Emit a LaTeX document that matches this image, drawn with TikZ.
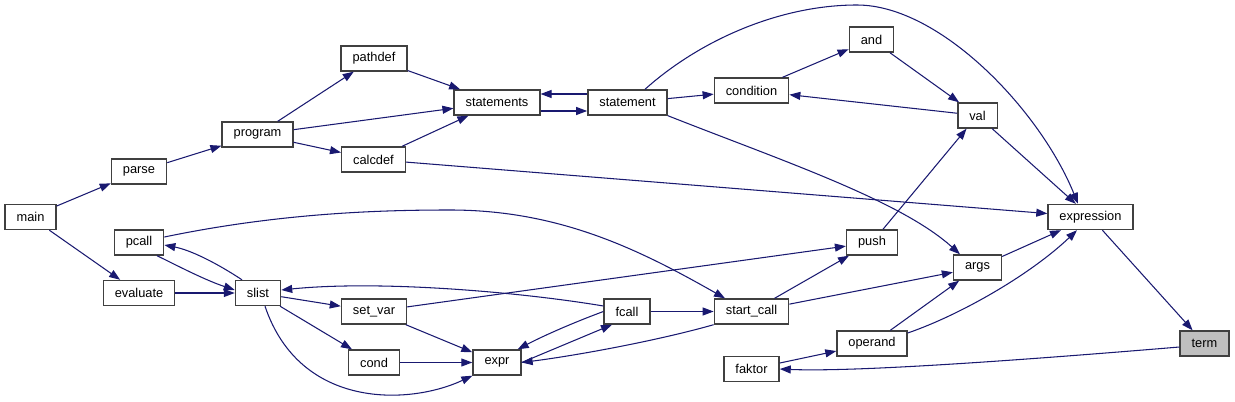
\documentclass[tikz,border=0pt]{standalone}
\usepackage{fontspec}
\setmainfont{Liberation Sans}
\usetikzlibrary{arrows.meta}
\definecolor{edgeblue}{HTML}{191970}
\definecolor{termgray}{HTML}{BFBFBF}
\begin{document}
\begin{tikzpicture}[x=0.02cm,y=-0.02cm,
    box/.style={draw=black!75,line width=0.8pt,fill=white,minimum height=0.5cm,
        inner xsep=0.23cm,inner ysep=0pt,font=\fontsize{7.3}{8}\selectfont},
    arr/.style={-{Triangle[length=0.22cm,width=0.16cm]},edgeblue,line width=0.6pt}
]
\useasboundingbox (0,0) rectangle (1235,402);
\node[box] (main) at (30.5,217) {main};
\node[box] (parse) at (139,171.5) {parse};
\node[box] (program) at (257.5,134.5) {program};
\node[box] (pathdef) at (374,58.5) {pathdef};
\node[box] (calcdef) at (373.5,159.5) {calcdef};
\node[box] (statements) at (497,102.5) {statements};
\node[box] (statement) at (627.5,102.5) {statement};
\node[box] (condition) at (751.5,90.5) {condition};
\node[box] (and) at (871.5,39.5) {and};
\node[box] (val) at (977.5,115.5) {val};
\node[box] (expression) at (1090.5,217) {expression};
\node[box,fill=termgray] (term) at (1204.5,343.5) {term};
\node[box] (pcall) at (139,242.5) {pcall};
\node[box] (evaluate) at (139,293) {evaluate};
\node[box] (slist) at (258,293) {slist};
\node[box] (setvar) at (374,311.5) {set\_var};
\node[box] (cond) at (374,362.5) {cond};
\node[box] (expr) at (497,362.5) {expr};
\node[box] (fcall) at (627,311.5) {fcall};
\node[box] (startcall) at (751.5,311.5) {start\_call};
\node[box] (faktor) at (751.5,369) {faktor};
\node[box] (push) at (872,242.5) {push};
\node[box] (args) at (977.5,267.5) {args};
\node[box] (operand) at (872,343.5) {operand};
\draw[arr] (main) -- (parse);
\draw[arr] (main) -- (evaluate);
\draw[arr] (parse) -- (program);
\draw[arr] (program) -- (pathdef);
\draw[arr] (program) -- (statements);
\draw[arr] (program) -- (calcdef);
\draw[arr] (pathdef) -- (statements);
\draw[arr] (calcdef) -- (statements);
\draw[arr] (calcdef) -- (expression);
\draw[arr] ([yshift=-0.17cm]statements.east) -- ([yshift=-0.17cm]statement.west);
\draw[arr] ([yshift=0.17cm]statement.west) -- ([yshift=0.17cm]statements.east);
\draw[arr] (statement) -- (condition);
\draw[arr] ([xshift=0.35cm]statement.north) .. controls (700,40) and (780,5) .. (857,5)
    .. controls (940,5) and (1040,110) .. ([xshift=-0.25cm]expression.north);
\draw[arr] (statement.south east) .. controls (780,160) and (900,200) .. ([xshift=-0.35cm]args.north);
\draw[arr] (condition) -- (and);
\draw[arr] (and) -- (val);
\draw[arr] (val) -- (condition);
\draw[arr] (val) -- (expression);
\draw[arr] (push) -- (val);
\draw[arr] ([yshift=0.11cm]pcall.east) .. controls (280,213) and (380,210) .. (450,210)
    .. controls (560,210) and (640,250) .. ([xshift=-0.53cm]startcall.north);
\draw[arr] ([xshift=0.36cm]pcall.south) .. controls (180,267) and (205,280) .. ([yshift=0.06cm]slist.west);
\draw[arr] ([xshift=-0.32cm]slist.north) .. controls (215,262) and (190,250) .. ([yshift=-0.05cm]pcall.east);
\draw[arr] (evaluate) -- (slist);
\draw[arr] (slist) -- (setvar);
\draw[arr] (slist) -- (cond);
\draw[arr] ([xshift=0.14cm]slist.south) .. controls (300,410) and (410,405) .. (expr.south west);
\draw[arr] (setvar) -- (push);
\draw[arr] (setvar) -- (expr);
\draw[arr] (cond) -- (expr);
\draw[arr] ([yshift=0.11cm]fcall.west) .. controls (520,292) and (380,280) .. ([yshift=0.06cm]slist.east);
\draw[arr] (fcall.west) .. controls (575,322) and (545,335) .. ([xshift=-0.08cm]expr.north east);
\draw[arr] (expr.east) -- ([xshift=-0.3cm]fcall.south);
\draw[arr] (fcall) -- (startcall);
\draw[arr] (startcall.south west) .. controls (660,340) and (580,355) .. (expr.east);
\draw[arr] (startcall) -- (push);
\draw[arr] (startcall) -- (args);
\draw[arr] (args) -- (expression);
\draw[arr] (operand) -- (args);
\draw[arr] ([yshift=0.21cm]operand.east) .. controls (960,315) and (1030,275) .. ([xshift=-0.27cm]expression.south);
\draw[arr] (faktor) -- (operand);
\draw[arr] ([yshift=-0.07cm]term.west) .. controls (1000,362) and (850,372) .. (faktor.east);
\draw[arr] (expression) -- (term);
\end{tikzpicture}
\end{document}
